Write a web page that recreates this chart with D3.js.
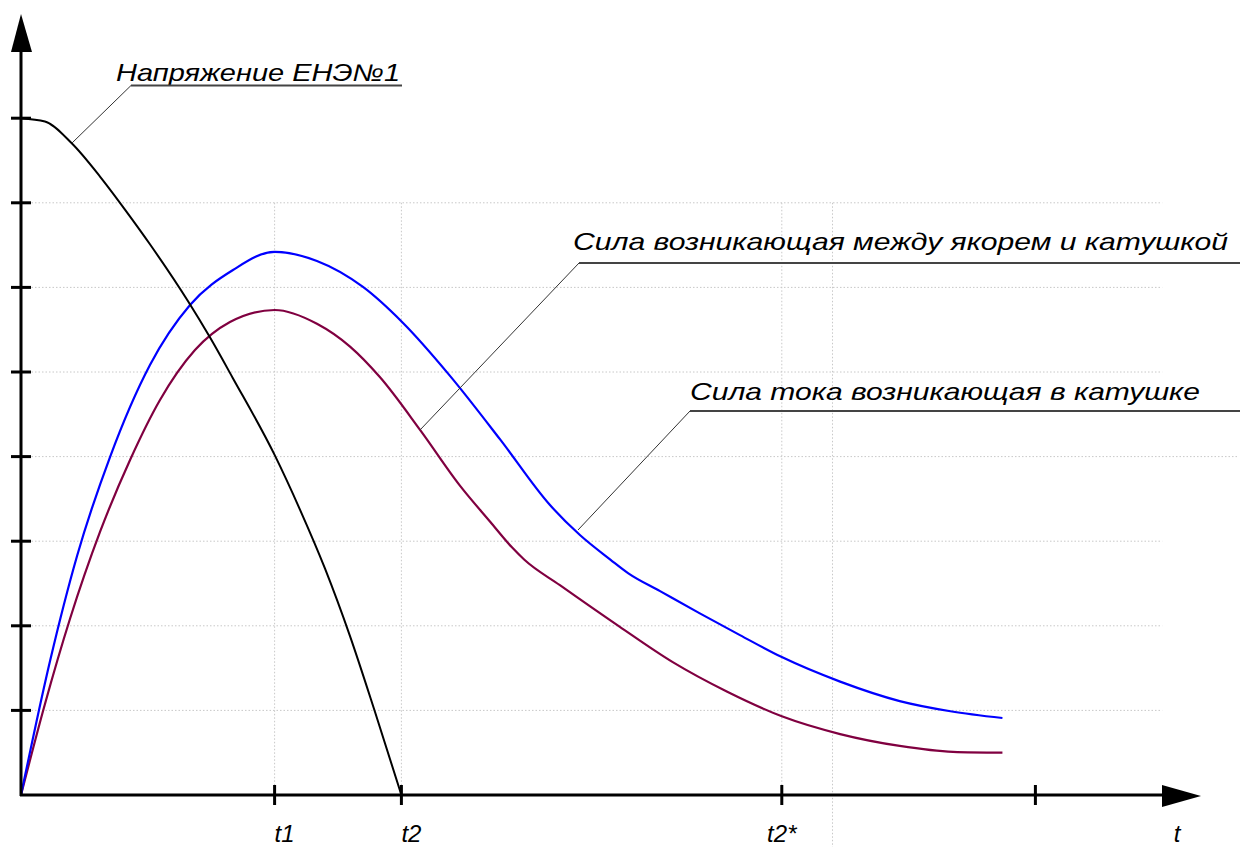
<!DOCTYPE html>
<html><head><meta charset="utf-8">
<script src="https://cdn.jsdelivr.net/npm/d3@7"></script>
<style>html,body{margin:0;padding:0;background:#fff;}svg{display:block;}</style>
</head><body>
<svg id="chart" width="1240" height="847"></svg>
<script>
// Data (time in arbitrary units, value in arbitrary units)
const voltageT = [0, 0.189, 0.402, 0.623, 0.820, 1.017, 1.32, 1.49, 1.67, 2.0, 2.20, 2.397, 2.594, 2.792, 3.0];
const voltageV = [8.0, 7.96, 7.70, 7.31, 6.92, 6.51, 5.83, 5.41, 4.93, 4.02, 3.374, 2.678, 1.881, 0.981, 0];

const forceT = [0, 0.229, 0.442, 0.702, 1.017, 1.333, 1.672, 2.0, 2.334, 2.697, 3.013, 3.38, 3.78, 4.17, 4.41, 4.65, 4.79, 5.04, 5.35, 5.67, 6.0, 6.46, 6.93, 7.33, 7.74];
const forceV = [0, 1.584, 2.825, 3.995, 5.083, 5.792, 6.206, 6.42, 6.312, 6.005, 5.579, 4.96, 4.20, 3.43, 3.07, 2.78, 2.62, 2.41, 2.15, 1.89, 1.63, 1.34, 1.11, 0.99, 0.91];

const currentT = [0, 0.189, 0.386, 0.623, 0.860, 1.096, 1.372, 1.648, 2.0, 2.334, 2.595, 2.83, 3.15, 3.46, 3.70, 3.87, 3.97, 4.25, 4.72, 5.14, 5.57, 6.0, 6.46, 6.93, 7.35, 7.74];
const currentV = [0, 1.076, 2.080, 3.109, 3.960, 4.669, 5.260, 5.591, 5.733, 5.57, 5.30, 4.94, 4.31, 3.66, 3.23, 2.93, 2.78, 2.48, 1.99, 1.57, 1.22, 0.93, 0.72, 0.58, 0.51, 0.50];

const xTicks = [2, 3, 6, 8];
const xTickLabels = ["t1", "t2", "t2*", ""];
const yTicks = [1, 2, 3, 4, 5, 6, 7, 8];
const hGrid = [1, 2, 3, 4, 5, 6, 7];
const hGridEnd = [9.0, 9.0, 9.0, 9.6, 9.0, 9.0, 9.0];
const vGrid = [2, 3, 6, 6.4];
const axisLabel = "t";

const labelTexts = ["Напряжение ЕНЭ№1", "Сила возникающая между якорем и катушкой", "Сила тока возникающая в катушке"];

// Scales
const x = d3.scaleLinear().domain([0, 9.3]).range([21, 21 + 9.3 * 126.8]);
const y = d3.scaleLinear().domain([0, 9.2]).range([795, 795 - 9.2 * 84.6]);

const svg = d3.select("#chart");
const FONT = "'Liberation Sans', Arial, sans-serif";

// Grid
const g = svg.append("g");
g.selectAll("line.h").data(hGrid).join("line")
  .attr("x1", x(0)).attr("x2", (d, i) => x(hGridEnd[i]))
  .attr("y1", d => y(d)).attr("y2", d => y(d))
  .attr("stroke", "#c8c8c8").attr("stroke-width", 1).attr("stroke-dasharray", "1.5,2");
g.selectAll("line.v").data(vGrid).join("line")
  .attr("x1", d => x(d)).attr("x2", d => x(d))
  .attr("y1", y(7)).attr("y2", d => d === 6.4 ? 847 : y(0))
  .attr("stroke", "#c8c8c8").attr("stroke-width", 1).attr("stroke-dasharray", "1.5,2");

// Curves
const line = d3.line().x(d => x(d[0])).y(d => y(d[1])).curve(d3.curveMonotoneX);
svg.append("path").datum(currentT.map((t, i) => [t, currentV[i]]))
  .attr("d", line).attr("fill", "none").attr("stroke", "#800040").attr("stroke-width", 2.2);
svg.append("path").datum(forceT.map((t, i) => [t, forceV[i]]))
  .attr("d", line).attr("fill", "none").attr("stroke", "#0000ff").attr("stroke-width", 2.2);
svg.append("path").datum(voltageT.map((t, i) => [t, voltageV[i]]))
  .attr("d", line).attr("fill", "none").attr("stroke", "#000").attr("stroke-width", 2);

// Axes
const ax = svg.append("g");
ax.append("line").attr("x1", x(0)).attr("x2", x(0)).attr("y1", y(0) + 1).attr("y2", 50)
  .attr("stroke", "#000").attr("stroke-width", 3);
ax.append("path").attr("d", `M${x(0)},14 L${x(0) - 10},52 L${x(0) + 11},52 Z`).attr("fill", "#000");
ax.append("line").attr("x1", x(0) - 1).attr("x2", 1165).attr("y1", y(0)).attr("y2", y(0))
  .attr("stroke", "#000").attr("stroke-width", 3);
ax.append("path").attr("d", `M1201,${y(0) + 1} L1162,${y(0) - 10} L1162,${y(0) + 12} Z`).attr("fill", "#000");

ax.selectAll("line.yt").data(yTicks).join("line")
  .attr("x1", x(0) - 10).attr("x2", x(0) + 10)
  .attr("y1", d => y(d)).attr("y2", d => y(d))
  .attr("stroke", "#000").attr("stroke-width", 3);
ax.selectAll("line.xt").data(xTicks).join("line")
  .attr("x1", d => x(d)).attr("x2", d => x(d))
  .attr("y1", y(0) - 10).attr("y2", y(0) + 10)
  .attr("stroke", "#000").attr("stroke-width", 3);

ax.selectAll("text.xl").data(xTicks).join("text")
  .attr("x", (d, i) => x(d) + (i === 2 ? 0 : 10)).attr("y", 842)
  .attr("text-anchor", "middle")
  .attr("font-family", FONT).attr("font-style", "italic").attr("font-size", 24)
  .text((d, i) => xTickLabels[i]);
ax.append("text").attr("x", 1177).attr("y", 842).attr("text-anchor", "middle")
  .attr("font-family", FONT).attr("font-style", "italic").attr("font-size", 24).text(axisLabel);

// Annotations
function annot(text, tx, tyBase, tWidth, ulx1, ulx2, uly, px, py) {
  svg.append("text").attr("x", tx).attr("y", tyBase)
    .attr("font-family", FONT).attr("font-style", "italic").attr("font-size", 24)
    .attr("textLength", tWidth).attr("lengthAdjust", "spacingAndGlyphs")
    .text(text);
  svg.append("line").attr("x1", ulx1).attr("x2", ulx2).attr("y1", uly).attr("y2", uly)
    .attr("stroke", "#444").attr("stroke-width", 2);
  svg.append("line").attr("x1", ulx1).attr("y1", uly).attr("x2", px).attr("y2", py)
    .attr("stroke", "#333").attr("stroke-width", 1);
}
annot(labelTexts[0], 116, 81, 284, 131, 402, 85.5, 72, 143);
annot(labelTexts[1], 573, 250, 655, 579, 1240, 263, 420, 430);
annot(labelTexts[2], 690, 400, 510, 690, 1240, 411, 578, 530);
</script>
</body></html>
